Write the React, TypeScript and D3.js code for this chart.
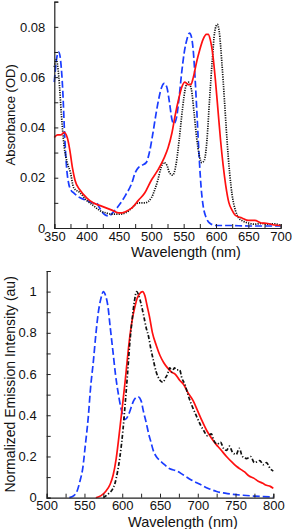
import React, { useEffect, useRef } from 'react'
import * as d3 from 'd3'

// absorbance (top panel), wavelength in nm
const absBlackWl = [350, 353, 357, 361, 365, 370, 375, 380, 390, 400, 410, 420, 430, 440, 450, 460, 470, 480, 490, 500, 505, 510, 515, 519, 524, 528, 533, 538, 543, 548, 553, 557, 562, 566, 570, 574, 578, 582, 586, 590, 594, 598, 602, 605, 609, 613, 617, 621, 625, 630, 635, 640, 650, 660, 670, 680, 690, 700]
const absBlack = [0.064, 0.067, 0.06, 0.045, 0.033, 0.026, 0.022, 0.016, 0.014, 0.011, 0.009, 0.007, 0.006, 0.0055, 0.0055, 0.006, 0.008, 0.010, 0.010, 0.012, 0.015, 0.019, 0.024, 0.026, 0.025, 0.022, 0.021, 0.025, 0.035, 0.047, 0.056, 0.058, 0.055, 0.046, 0.036, 0.029, 0.026, 0.027, 0.035, 0.051, 0.066, 0.078, 0.081, 0.078, 0.066, 0.051, 0.035, 0.022, 0.013, 0.007, 0.004, 0.003, 0.002, 0.0015, 0.0018, 0.0015, 0.0017, 0.001]

const absBlueWl = [350, 354, 357, 360, 363, 366, 369, 372, 376, 380, 390, 400, 410, 415, 420, 425, 430, 435, 440, 450, 460, 470, 475, 480, 486, 492, 497, 502, 507, 512, 516, 520, 524, 528, 532, 535, 539, 543, 547, 551, 555, 559, 562, 565, 568, 571, 574, 577, 580, 585, 590, 600, 620, 650, 700]
const absBlue = [0.058, 0.068, 0.070, 0.066, 0.055, 0.037, 0.024, 0.018, 0.015, 0.014, 0.012, 0.011, 0.010, 0.010, 0.008, 0.006, 0.005, 0.0048, 0.006, 0.009, 0.013, 0.018, 0.022, 0.024, 0.025, 0.026, 0.030, 0.037, 0.045, 0.052, 0.056, 0.0575, 0.056, 0.050, 0.043, 0.0415, 0.044, 0.052, 0.062, 0.070, 0.075, 0.0775, 0.076, 0.070, 0.058, 0.043, 0.028, 0.016, 0.009, 0.004, 0.002, 0.001, 0.001, 0.0008, 0.0008]

const absRedWl = [350, 355, 360, 365, 370, 374, 378, 382, 390, 400, 410, 420, 430, 440, 450, 455, 460, 470, 480, 490, 500, 510, 520, 526, 532, 537, 542, 547, 552, 557, 561, 565, 570, 575, 580, 585, 588, 591, 595, 599, 603, 607, 611, 615, 620, 625, 630, 640, 650, 660, 670, 680, 690, 700]
const absRed = [0.036, 0.037, 0.037, 0.038, 0.036, 0.031, 0.024, 0.019, 0.015, 0.012, 0.010, 0.009, 0.008, 0.007, 0.006, 0.006, 0.0065, 0.008, 0.011, 0.014, 0.019, 0.023, 0.028, 0.032, 0.038, 0.045, 0.051, 0.056, 0.058, 0.057, 0.057, 0.060, 0.066, 0.071, 0.075, 0.077, 0.077, 0.075, 0.069, 0.059, 0.047, 0.035, 0.025, 0.017, 0.010, 0.007, 0.005, 0.004, 0.003, 0.003, 0.002, 0.0018, 0.0012, 0.001]

// normalized emission (bottom panel)
const emBlueWl = [530, 536, 540, 544, 548, 551, 555, 558, 562, 565, 568, 572, 575, 578, 581, 584, 588, 591, 595, 598, 601, 604, 608, 612, 615, 618, 621, 625, 628, 632, 635, 638, 641, 645, 650, 656, 663, 672, 681, 692, 703, 714, 725, 736, 747, 760, 774, 787, 800]
const emBlue = [0, 0.01, 0.03, 0.08, 0.15, 0.25, 0.39, 0.53, 0.67, 0.79, 0.89, 0.97, 1.0, 0.98, 0.93, 0.83, 0.70, 0.60, 0.50, 0.44, 0.40, 0.38, 0.40, 0.44, 0.47, 0.485, 0.49, 0.47, 0.42, 0.36, 0.31, 0.27, 0.23, 0.20, 0.18, 0.16, 0.14, 0.13, 0.11, 0.085, 0.065, 0.045, 0.03, 0.022, 0.016, 0.012, 0.008, 0.005, 0.003]

const emRedWl = [565, 572, 578, 584, 588, 592, 597, 601, 604, 607, 610, 614, 617, 620, 623, 627, 630, 633, 636, 640, 645, 650, 655, 660, 665, 670, 676, 681, 687, 694, 700, 706, 712, 718, 724, 730, 738, 746, 752, 756, 762, 768, 774, 780, 786, 791, 796, 800]
const emRed = [0, 0.01, 0.03, 0.065, 0.11, 0.19, 0.34, 0.47, 0.57, 0.68, 0.78, 0.88, 0.93, 0.97, 0.99, 1.0, 0.98, 0.93, 0.88, 0.80, 0.74, 0.69, 0.655, 0.63, 0.61, 0.60, 0.57, 0.55, 0.51, 0.47, 0.42, 0.37, 0.325, 0.29, 0.26, 0.235, 0.2, 0.17, 0.15, 0.14, 0.125, 0.105, 0.095, 0.08, 0.07, 0.06, 0.055, 0.045]

const emBlackWl = [575, 582, 587, 590, 594, 597, 601, 604, 607, 610, 613, 616, 619, 622, 625, 628, 632, 635, 638, 641, 645, 650, 654, 657, 660, 663, 666, 669, 672, 676, 679, 683, 687, 693, 699, 704, 708, 713, 718, 721, 726, 730, 734, 738, 742, 746, 751, 755, 759, 765, 770, 775, 782, 787, 791, 796, 800]
const emBlack = [0, 0.02, 0.04, 0.065, 0.13, 0.2, 0.33, 0.46, 0.6, 0.75, 0.86, 0.95, 1.0, 0.98, 0.94, 0.89, 0.82, 0.78, 0.72, 0.67, 0.61, 0.57, 0.56, 0.58, 0.6, 0.63, 0.61, 0.63, 0.62, 0.62, 0.58, 0.55, 0.5, 0.44, 0.39, 0.35, 0.325, 0.3, 0.31, 0.28, 0.26, 0.27, 0.24, 0.23, 0.25, 0.22, 0.21, 0.24, 0.2, 0.19, 0.2, 0.17, 0.18, 0.16, 0.17, 0.14, 0.13]

const absXTicks = d3.range(350, 701, 25)
const absYTicks = d3.range(0, 0.0901, 0.01)
const emXTicks = d3.range(500, 801, 25)
const emYTicks = d3.range(0, 1.101, 0.1)

const FONT = 'Liberation Sans, Arial, sans-serif'

type Series = { wl: number[]; v: number[]; color: string; dash: string | null; width: number }

function drawPanel(
  g: d3.Selection<SVGGElement, unknown, null, undefined>,
  opts: {
    left: number; right: number; top: number; bottom: number
    xDomain: [number, number]; yDomain: [number, number]
    xTicks: number[]; yTicks: number[]
    xMajor: (d: number) => boolean; yFmt: (d: number) => string
    yPad: number; yTitle: string; yTitleSize: number; xTitleX: number; series: Series[]
  }
) {
  const x = d3.scaleLinear().domain(opts.xDomain).range([opts.left, opts.right])
  const y = d3.scaleLinear().domain(opts.yDomain).range([opts.bottom, opts.top])

  opts.series.forEach(s => {
    const pts = s.wl.map((w, i) => [w, s.v[i]] as [number, number])
    const line = d3.line<[number, number]>()
      .x(d => x(d[0]))
      .y(d => y(d[1]))
      .curve(d3.curveMonotoneX)
    const p = g.append('path')
      .attr('d', line(pts))
      .attr('fill', 'none')
      .attr('stroke', s.color)
      .attr('stroke-width', s.width)
    if (s.dash) p.attr('stroke-dasharray', s.dash)
  })

  const xAxis = g.append('g')
    .attr('transform', `translate(0,${opts.bottom})`)
    .call(d3.axisBottom(x).tickValues(opts.xTicks).tickSize(-4).tickPadding(3.5)
      .tickFormat(d => (opts.xMajor(+d) ? String(d) : '')))
  const yAxis = g.append('g')
    .attr('transform', `translate(${opts.left},0)`)
    .call(d3.axisLeft(y).tickValues(opts.yTicks).tickSize(-4).tickPadding(opts.yPad)
      .tickFormat(d => opts.yFmt(+d)))

  ;[xAxis, yAxis].forEach(a => {
    a.select('.domain').attr('stroke', '#222').attr('stroke-width', 1.2)
    a.selectAll('.tick line').attr('stroke', '#222')
    a.selectAll('text').attr('font-size', 13).attr('font-family', FONT).attr('fill', '#111')
  })

  g.append('text')
    .attr('x', opts.xTitleX)
    .attr('y', opts.bottom + 29)
    .attr('text-anchor', 'middle')
    .attr('font-size', 14.5)
    .attr('font-family', FONT)
    .attr('fill', '#111')
    .text('Wavelength (nm)')

  g.append('text')
    .attr('transform', `translate(15,${(opts.top + opts.bottom) / 2}) rotate(-90)`)
    .attr('text-anchor', 'middle')
    .attr('font-size', opts.yTitleSize)
    .attr('font-family', FONT)
    .attr('fill', '#111')
    .text(opts.yTitle)
}

export default function App() {
  const ref = useRef<SVGSVGElement>(null)

  useEffect(() => {
    const svg = d3.select(ref.current)
    svg.selectAll('*').remove()
    const blue = '#1a3cff'
    const red = '#ff1010'

    drawPanel(svg.append('g'), {
      left: 54.3, right: 280.7, top: 1.7, bottom: 228,
      xDomain: [350, 700], yDomain: [0, 0.09],
      xTicks: absXTicks, yTicks: absYTicks,
      xMajor: d => d % 50 === 0,
      yFmt: d => {
        const k = Math.round(d * 100)
        if (k % 2 !== 0) return ''
        return k === 0 ? '0' : (k / 100).toFixed(2)
      },
      yPad: 9,
      yTitle: 'Absorbance (OD)',
      yTitleSize: 13,
      xTitleX: 186,
      series: [
        { wl: absBlueWl, v: absBlue, color: blue, dash: '7,3', width: 1.7 },
        { wl: absBlackWl, v: absBlack, color: '#111', dash: '1.2,1.2', width: 1.7 },
        { wl: absRedWl, v: absRed, color: red, dash: null, width: 1.7 },
      ],
    })

    drawPanel(svg.append('g'), {
      left: 46.7, right: 273.3, top: 271, bottom: 497.7,
      xDomain: [500, 800], yDomain: [0, 1.1],
      xTicks: emXTicks, yTicks: emYTicks,
      xMajor: d => d % 50 === 0,
      yFmt: d => {
        const k = Math.round(d * 10)
        if (k % 2 !== 0) return ''
        return k === 0 ? '0' : k === 10 ? '1' : (k / 10).toFixed(1)
      },
      yPad: 10,
      yTitle: 'Normalized Emission Intensity (au)',
      yTitleSize: 14,
      xTitleX: 183,
      series: [
        { wl: emBlueWl, v: emBlue, color: blue, dash: '7,3', width: 1.7 },
        { wl: emRedWl, v: emRed, color: red, dash: null, width: 1.7 },
        { wl: emBlackWl, v: emBlack, color: '#111', dash: '4,2,1.2,2', width: 1.7 },
      ],
    })
  }, [])

  return (
    <div style={{ position: 'absolute', left: 0, top: 0 }}>
      <svg ref={ref} width={292} height={529} style={{ display: 'block', background: '#fff' }} />
    </div>
  )
}
